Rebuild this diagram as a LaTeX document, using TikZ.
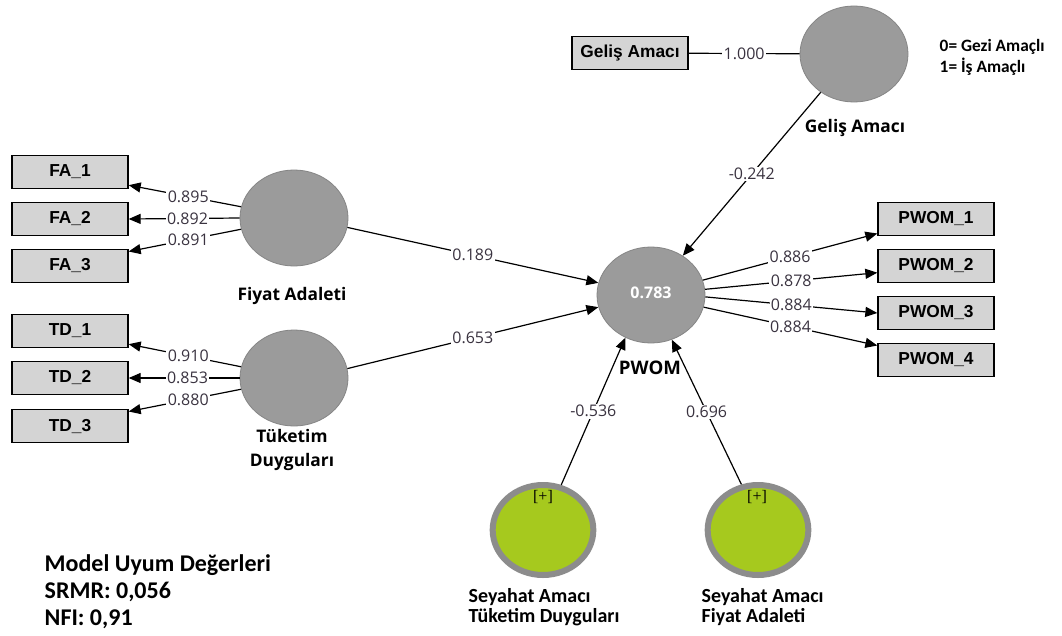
\documentclass[tikz,border=0pt]{standalone}
\usepackage{fontspec}
\setmainfont{Open Sans}
\newfontfamily\boxfont{Liberation Sans}
\newfontfamily\calfont{Carlito}
\newfontfamily\serfont{Liberation Serif}
\usetikzlibrary{shapes.geometric,arrows.meta,calc}
\definecolor{latgray}{HTML}{9B9B9B}
\definecolor{latborder}{HTML}{858585}
\definecolor{boxgray}{HTML}{D4D4D4}
\definecolor{modgreen}{HTML}{A6C91E}
\definecolor{modborder}{HTML}{8C8C8C}
\definecolor{labelcol}{HTML}{3A3340}
\tikzset{
  ind/.style={draw=black, line width=1pt, fill=boxgray, minimum width=87pt, minimum height=24.75pt, inner sep=0pt, font=\boxfont\bfseries\fontsize{13}{14}\selectfont},
  lat/.style={ellipse, draw=latborder, line width=0.6pt, fill=latgray, minimum width=81pt, minimum height=72pt, inner sep=0pt},
  modc/.style={ellipse, draw=modborder, line width=4.5pt, fill=modgreen, minimum width=75.5pt, minimum height=67.5pt, inner sep=0pt},
  lbl/.style={fill=white, inner sep=1pt, font=\fontsize{12}{14}\selectfont, text=labelcol},
  arr/.style={-{Triangle[length=9pt,width=7.5pt]}, line width=0.9pt},
  link/.style={line width=0.9pt},
  capt/.style={font=\bfseries\fontsize{13}{18}\selectfont, align=center},
  calc15/.style={font=\calfont\bfseries\fontsize{15}{15}\selectfont, align=left, anchor=west},
  plusl/.style={font=\serfont\fontsize{12}{14}\selectfont}
}
\begin{document}
\begin{tikzpicture}[x=0.75pt,y=-0.75pt]
\fill[white] (0,0) rectangle (1062,635);
\useasboundingbox (0,0) rectangle (1062,635);

% nodes
\node[ind] (ga) at (630,53) {Geliş Amacı};
\node[lat] (gc) at (854,54) {};
\node[capt] (gcl) at (855,128) {Geliş Amacı};
\node[font=\calfont\bfseries\fontsize{13}{15.75}\selectfont, align=left, anchor=west] (leg) at (935,57) {0= Gezi Amaçlı\\1= İş Amaçlı};

\node[ind] (fa1) at (70,172) {FA\_1};
\node[ind] (fa2) at (70,219) {FA\_2};
\node[ind] (fa3) at (70,266) {FA\_3};
\node[ind] (td1) at (70,331) {TD\_1};
\node[ind] (td2) at (70,378) {TD\_2};
\node[ind] (td3) at (70,426) {TD\_3};

\node[lat] (fa) at (294,218) {};
\node[capt] (fal) at (292,296) {Fiyat Adaleti};
\node[lat] (td) at (294,378) {};
\node[capt] (tdl) at (292,450) {Tüketim\\Duyguları};

\node[lat] (pw) at (651,295) {};
\node[font=\bfseries\fontsize{12}{14}\selectfont, text=white] (pwv) at (651,293) {0.783};
\node[capt, font=\bfseries\fontsize{14}{16}\selectfont] (pwl) at (650,368) {PWOM};

\node[ind] (pw1) at (936,219) {PWOM\_1};
\node[ind] (pw2) at (936,266) {PWOM\_2};
\node[ind] (pw3) at (936,313) {PWOM\_3};
\node[ind] (pw4) at (936,360) {PWOM\_4};

\node[modc] (m1) at (543,530) {};
\node[plusl] (p1) at (543,497) {[+]};
\node[modc] (m2) at (758,530) {};
\node[plusl] (p2) at (757,497) {[+]};
\node[calc15] (m1l) at (464,607) {Seyahat Amacı\\Tüketim Duyguları};
\node[calc15] (m2l) at (697,607) {Seyahat Amacı\\Fiyat Adaleti};

\node[font=\calfont\bfseries\fontsize{18}{20.25}\selectfont, align=left, anchor=west] (fit) at (40,592) {Model Uyum Değerleri\\SRMR: 0,056\\NFI: 0,91};

% connectors
\draw[link] (ga) -- node[lbl]{1.000} (gc);
\draw[arr] (gc.229) -- node[lbl]{-0.242} (pw.51);

\draw[arr] (fa.168) -- node[lbl,pos=0.47]{0.895} ([yshift=3pt]fa1.south east);
\draw[arr] (fa.180) -- node[lbl,pos=0.47]{0.892} (fa2.east);
\draw[arr] (fa.192) -- node[lbl,pos=0.47]{0.891} ([yshift=-2pt]fa3.north east);
\draw[arr] (td.168) -- node[lbl,pos=0.47]{0.910} ([yshift=3pt]td1.south east);
\draw[arr] (td.180) -- node[lbl,pos=0.47]{0.853} (td2.east);
\draw[arr] (td.192) -- node[lbl,pos=0.47]{0.880} ([yshift=-2pt]td3.north east);

\draw[arr] (fa.-10) -- node[lbl]{0.189} (pw.167);
\draw[arr] (td.10) -- node[lbl]{0.653} (pw.193);

\draw[arr] (pw.16) -- node[lbl]{0.886} ([yshift=2pt]pw1.south west);
\draw[arr] (pw.6) -- node[lbl]{0.878} ([yshift=-5pt]pw2.west);
\draw[arr] (pw.-2) -- node[lbl]{0.884} (pw3.west);
\draw[arr] (pw.-13) -- node[lbl]{0.884} ([yshift=-2pt]pw4.north west);

\draw[arr] (m1.68) -- node[lbl]{-0.536} (pw.239);
\draw[arr] (m2.110) -- node[lbl]{0.696} (pw.295);
\end{tikzpicture}
\end{document}
